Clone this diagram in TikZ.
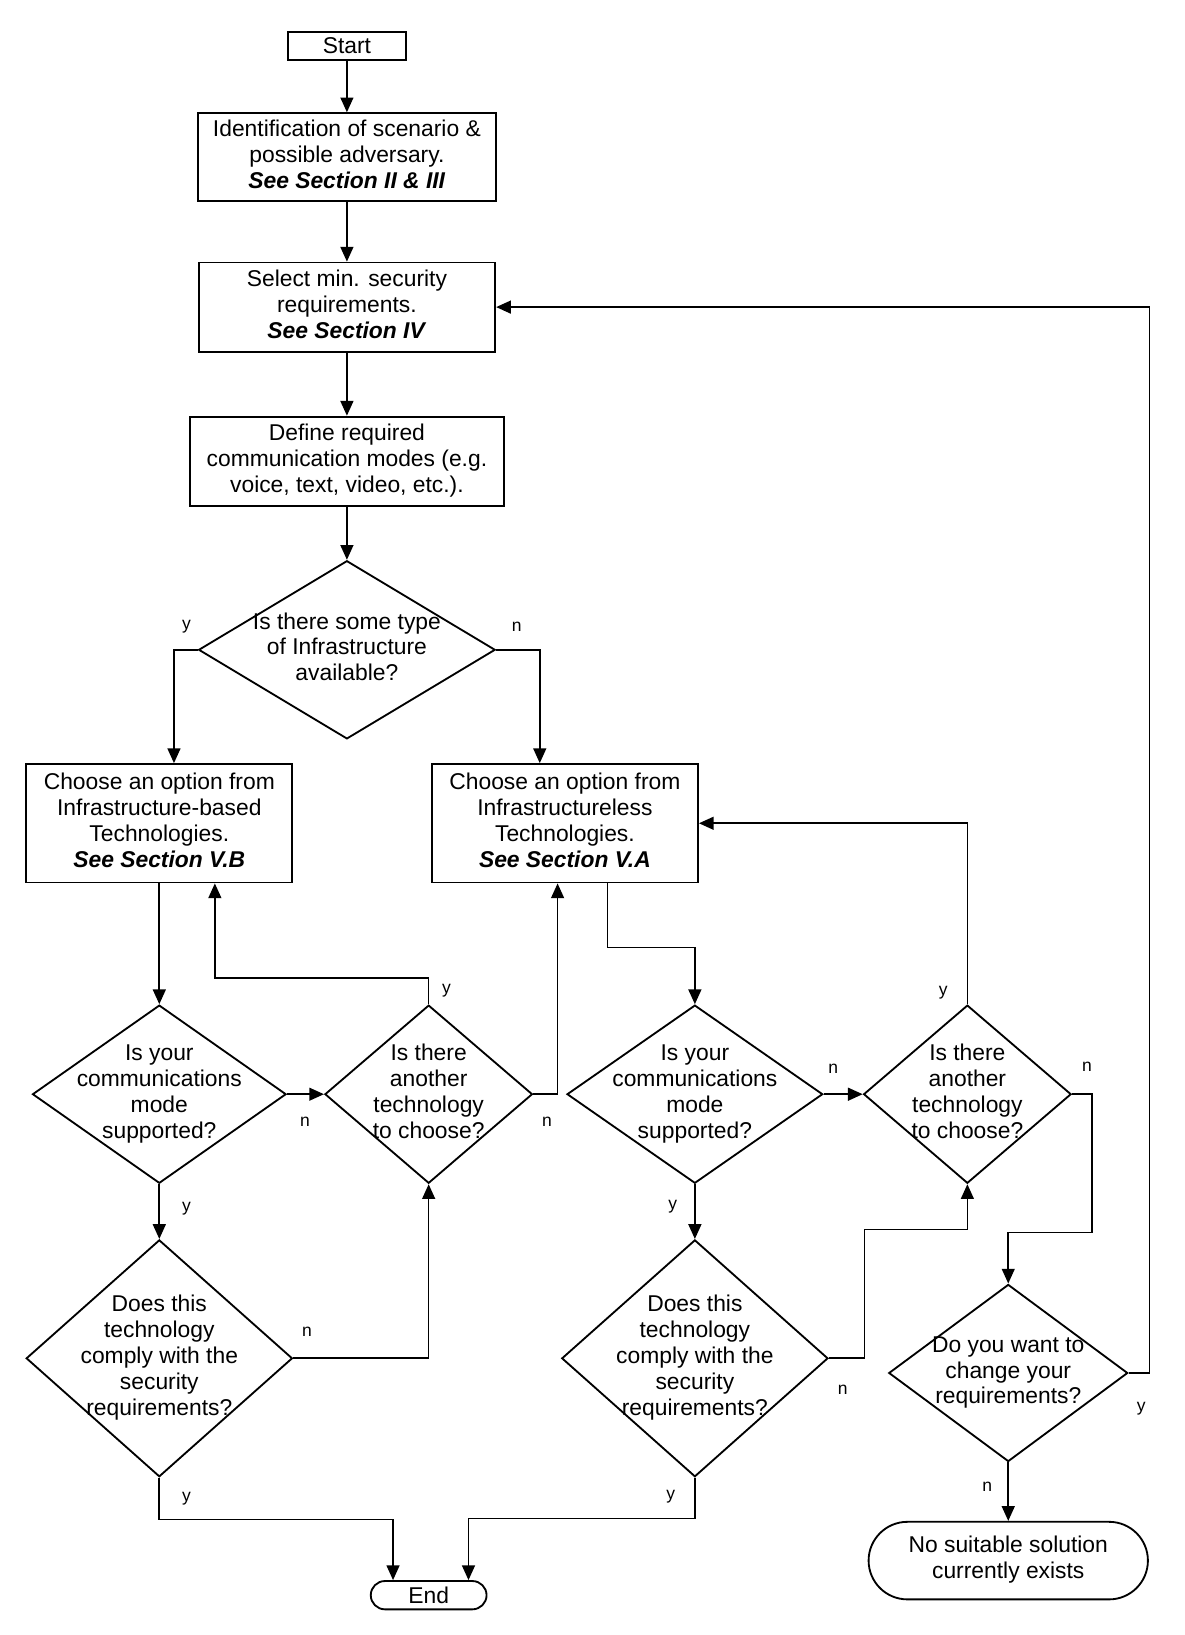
\documentclass[tikz,border=0pt]{standalone}
\usepackage{fontspec}
\setmainfont{Liberation Sans}
\usepackage{tikz}
\usetikzlibrary{arrows.meta,shapes,positioning}
\usepackage{xcolor}
\definecolor{fcblack}{RGB}{0,0,0}
\tikzstyle{arrow} = [line width=0.9pt,->,>={Triangle[length=8pt,width=7pt]},color=fcblack]
\tikzstyle{process} = [rectangle, minimum width=5.66cm, minimum height=1.7cm, text centered, draw=fcblack, line width=1pt, inner sep=2pt, font=\fontsize{12.4}{14}\selectfont]
\tikzstyle{decision} = [diamond, inner sep=-3cm, text centered, draw=fcblack, line width=1pt, font=\fontsize{12.4}{14}\selectfont]
\tikzstyle{terminal} = [rounded rectangle, inner sep=1pt, text centered, draw=fcblack, line width=1pt, font=\fontsize{12.4}{14}\selectfont]
\tikzstyle{answer} = [inner sep=0pt, font=\fontsize{9.5}{11}\selectfont]

\begin{document}
\begin{tikzpicture}
\useasboundingbox (0,0) rectangle (22.6,-31.2);

% Main column
\node (start) [process, minimum width=2.26cm, minimum height=0.54cm, inner sep=1pt] at (6.62,-0.88) {Start};
\node (ident) [process, below of=start, node distance=2.12cm, minimum height=1.68cm] {
\begin{tabular}{c}
Identification of scenario \&\\
possible adversary.\\
\textbf{\textit{See Section II \& III}}
\end{tabular}
};
\node (select) [process, below of=ident, node distance=2.86cm] {
\begin{tabular}{c}
Select min. security\\
requirements.\\
\textbf{\textit{See Section IV}}
\end{tabular}
};
\node (define) [process, below of=select, node distance=2.94cm, minimum width=6cm] {
\begin{tabular}{c}
Define required\\
communication modes (e.g.\\
voice, text, video, etc.).
\end{tabular}
};
\node (infra) [decision, below of=define, node distance=3.6cm, minimum width=5.66cm, minimum height=3.4cm] {
\begin{tabular}{c}
Is there some type\\
of Infrastructure\\
available?
\end{tabular}
};

\draw[arrow] (start) -- (ident);
\draw[arrow] (ident) -- (select);
\draw[arrow] (select) -- (define);
\draw[arrow] (define) -- (infra);

% Technology options
\node (based) [process, minimum width=5.08cm, minimum height=2.26cm] at (3.04,-15.71) {
\begin{tabular}{c}
Choose an option from\\
Infrastructure-based\\
Technologies.\\
\textbf{\textit{See Section V.B}}
\end{tabular}
};
\node (less) [process, right of=based, node distance=7.74cm, minimum width=5.08cm, minimum height=2.26cm] {
\begin{tabular}{c}
Choose an option from\\
Infrastructureless\\
Technologies.\\
\textbf{\textit{See Section V.A}}
\end{tabular}
};

\draw[arrow] (infra.west) -| ([xshift=0.28cm]based.north);
\draw[arrow] (infra.east) -| ([xshift=-0.48cm]less.north);
\node (yinfra) [answer] at (3.56,-11.96) {y};
\node (ninfra) [answer] at (9.86,-11.96) {n};

% Infrastructure-based checks
\node (commA) [decision, below of=based, node distance=5.17cm, minimum width=4.84cm, minimum height=3.4cm] {
\begin{tabular}{c}
Is your\\
communications\\
mode\\
supported?
\end{tabular}
};
\node (anotherA) [decision, right of=commA, node distance=5.14cm, minimum width=3.96cm, minimum height=3.4cm] {
\begin{tabular}{c}
Is there\\
another\\
technology\\
to choose?
\end{tabular}
};
\node (complyA) [decision, below of=commA, node distance=5.04cm, minimum width=5.08cm, minimum height=4.52cm] {
\begin{tabular}{c}
Does this\\
technology\\
comply with the\\
security\\
requirements?
\end{tabular}
};

\draw[arrow] (based) -- (commA);
\draw[arrow] (commA.east) -- (anotherA.west);
\draw[arrow] (commA.south) -- (complyA.north);
\draw[arrow] (anotherA.north) -- ++(0,0.5) -| ([xshift=1.06cm]based.south);
\draw[arrow] (anotherA.east) -| ([xshift=-0.14cm]less.south);
\draw[arrow] (complyA.east) -| (anotherA.south);

\node (ncommA) [answer] at (5.82,-21.4) {n};
\node (ycommA) [answer] at (3.56,-23.06) {y};
\node (yanotherA) [answer] at (8.52,-18.9) {y};
\node (nanotherA) [answer] at (10.44,-21.4) {n};
\node (ncomplyA) [answer] at (5.86,-25.42) {n};
\node (ycomplyA) [answer] at (3.56,-28.6) {y};

% Infrastructureless checks
\node (commB) [decision, right of=anotherA, node distance=5.08cm, minimum width=4.88cm, minimum height=3.4cm] {
\begin{tabular}{c}
Is your\\
communications\\
mode\\
supported?
\end{tabular}
};
\node (anotherB) [decision, right of=commB, node distance=5.2cm, minimum width=3.96cm, minimum height=3.4cm] {
\begin{tabular}{c}
Is there\\
another\\
technology\\
to choose?
\end{tabular}
};
\node (complyB) [decision, below of=commB, node distance=5.04cm, minimum width=5.08cm, minimum height=4.52cm] {
\begin{tabular}{c}
Does this\\
technology\\
comply with the\\
security\\
requirements?
\end{tabular}
};

\draw[arrow] ([xshift=0.81cm]less.south) -- ++(0,-1.22) -| (commB.north);
\draw[arrow] (commB.east) -- (anotherB.west);
\draw[arrow] (commB.south) -- (complyB.north);
\draw[arrow] (anotherB.north) |- (less.east);
\draw[arrow] (complyB.east) -- ++(0.68,0) -- ++(0,2.46) -| (anotherB.south);

\node (ncommB) [answer] at (15.9,-20.4) {n};
\node (ycommB) [answer] at (12.84,-23.02) {y};
\node (yanotherB) [answer] at (18.0,-18.94) {y};
\node (nanotherB) [answer] at (20.74,-20.36) {n};
\node (ncomplyB) [answer] at (16.08,-26.52) {n};
\node (ycomplyB) [answer] at (12.8,-28.56) {y};

% Requirements loop and endings
\node (change) [decision, minimum width=4.56cm, minimum height=3.38cm] at (19.24,-26.2) {
\begin{tabular}{c}
Do you want to\\
change your\\
requirements?
\end{tabular}
};
\node (nosol) [terminal, below of=change, node distance=3.58cm, minimum width=5.4cm, minimum height=1.48cm] {
\begin{tabular}{c}
No suitable solution\\
currently exists
\end{tabular}
};
\node (end) [terminal, minimum width=2.28cm, minimum height=0.54cm] at (8.18,-30.44) {End};

\draw[arrow] (anotherB.east) -- ++(0.38,0) -- ++(0,-2.64) -| (change.north);
\draw[arrow] (change.east) -- ++(0.4,0) |- (select.east);
\draw[arrow] (change.south) -- (nosol.north);
\draw[arrow] (complyA.south) -- ++(0,-0.8) -| ([xshift=-0.68cm]end.north);
\draw[arrow] (complyB.south) -- ++(0,-0.78) -| ([xshift=0.76cm]end.north);

\node (ychange) [answer] at (21.78,-26.88) {y};
\node (nchange) [answer] at (18.84,-28.38) {n};
\end{tikzpicture}
\end{document}
